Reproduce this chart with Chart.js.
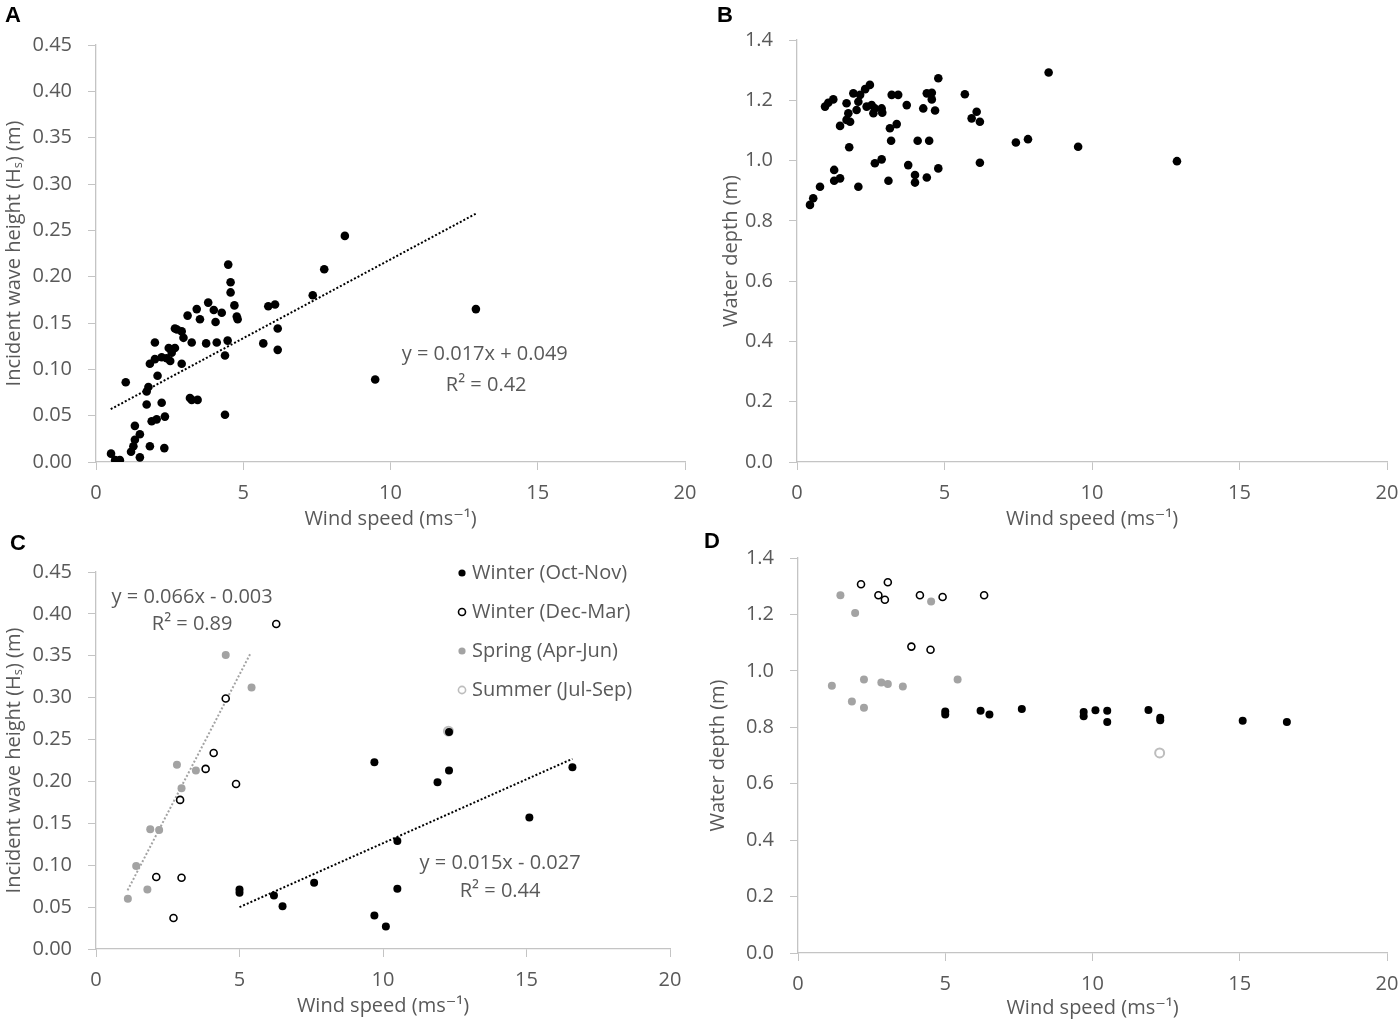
<!DOCTYPE html>
<html>
<head>
<meta charset="utf-8">
<script src="https://cdn.jsdelivr.net/npm/chart.js@4.4.1/dist/chart.umd.min.js"></script>
<style>
  body { margin: 0; background: #fff; width: 1399px; height: 1025px; position: relative; overflow: hidden; }
  .panel { position: absolute; }
  .tag { position: absolute; font: bold 22px "Liberation Sans", Arial, sans-serif; line-height: 22px; color: #000; }
</style>
</head>
<body>
<div class="panel" style="left:0;top:0"><canvas id="chartA" width="700" height="540"></canvas></div>
<div class="panel" style="left:700px;top:0"><canvas id="chartB" width="699" height="540"></canvas></div>
<div class="panel" style="left:0;top:510px"><canvas id="chartC" width="700" height="515"></canvas></div>
<div class="panel" style="left:700px;top:510px"><canvas id="chartD" width="699" height="515"></canvas></div>
<div class="tag" style="left:5px;top:4px">A</div>
<div class="tag" style="left:717px;top:4px">B</div>
<div class="tag" style="left:10px;top:532px">C</div>
<div class="tag" style="left:704px;top:530px">D</div>
<script>
// ---- panel A: wind speed vs incident wave height (all surveys)
const windA = [4.49, 4.57, 4.57, 4.70, 4.78, 4.81, 3.81, 4.00, 4.27, 3.42, 3.11, 3.53, 4.06, 2.68, 2.91, 2.97,
  3.25, 3.74, 4.10, 4.47, 4.38, 2.00, 2.68, 2.57, 2.40, 2.23, 1.83, 2.00, 2.91, 2.09, 1.78, 1.72, 1.01, 3.19,
  3.45, 3.25, 1.72, 2.23, 5.85, 6.08, 5.68, 6.17, 6.17, 4.38, 1.32, 1.89, 2.06, 2.34, 1.49, 1.32, 1.27, 1.19,
  1.83, 2.32, 1.49, 0.51, 0.65, 0.81, 7.36, 7.75, 8.45, 9.48, 12.90, 2.52, 2.47, 2.75];
const hsA = [0.213, 0.194, 0.183, 0.169, 0.157, 0.154, 0.172, 0.164, 0.161, 0.165, 0.158, 0.154, 0.151, 0.144,
  0.141, 0.134, 0.129, 0.128, 0.129, 0.131, 0.115, 0.129, 0.123, 0.118, 0.112, 0.113, 0.106, 0.111, 0.106,
  0.093, 0.081, 0.076, 0.086, 0.069, 0.067, 0.067, 0.062, 0.064, 0.168, 0.170, 0.128, 0.144, 0.121, 0.051,
  0.039, 0.044, 0.046, 0.049, 0.030, 0.024, 0.017, 0.011, 0.017, 0.015, 0.005, 0.009, 0.002, 0.002, 0.180,
  0.208, 0.244, 0.089, 0.165, 0.109, 0.123, 0.143];
const trendWindA = [0.5, 12.9];
const trendHsA = [0.057, 0.268];

// ---- panel B: wind speed vs water depth (all surveys)
const windB = [4.79, 2.47, 2.31, 1.91, 2.14, 3.21, 3.43, 4.40, 4.57, 5.69, 1.23, 1.06, 0.95, 1.68, 2.08, 2.02,
  2.36, 2.64, 2.87, 2.59, 2.89, 3.72, 4.28, 4.57, 4.68, 6.09, 5.92, 6.20, 1.74, 1.80, 1.68, 1.46, 3.15, 3.38,
  3.19, 4.09, 4.48, 1.77, 2.64, 2.87, 3.77, 4.79, 6.20, 1.26, 1.26, 1.46, 3.10, 2.08, 4.00, 4.00, 4.40, 0.78,
  0.55, 0.44, 2.53, 7.42, 7.83, 8.53, 9.53, 12.88];
const depthB = [1.273, 1.251, 1.237, 1.223, 1.218, 1.218, 1.218, 1.223, 1.225, 1.220, 1.203, 1.192, 1.179,
  1.190, 1.195, 1.168, 1.179, 1.173, 1.173, 1.157, 1.159, 1.184, 1.173, 1.203, 1.166, 1.162, 1.140, 1.129,
  1.157, 1.129, 1.135, 1.115, 1.107, 1.121, 1.066, 1.066, 1.066, 1.044, 0.991, 1.004, 0.985, 0.974, 0.993,
  0.969, 0.933, 0.941, 0.933, 0.913, 0.952, 0.927, 0.944, 0.913, 0.875, 0.853, 1.184, 1.060, 1.071, 1.292,
  1.046, 0.998];

// ---- panels C and D: by season
const windOctNov = [5.0, 5.0, 6.2, 6.5, 7.6, 9.7, 9.7, 10.1, 10.5, 10.5, 11.9, 12.3, 12.3, 15.1, 16.6];
const hsOctNov = [0.071, 0.067, 0.064, 0.051, 0.079, 0.223, 0.040, 0.027, 0.129, 0.072, 0.199, 0.259, 0.213,
  0.157, 0.217];
const depthOctNov = [0.856, 0.845, 0.859, 0.845, 0.865, 0.854, 0.839, 0.860, 0.859, 0.819, 0.861, 0.834,
  0.825, 0.823, 0.819];

const windDecMarC = [6.28, 4.52, 4.10, 3.82, 4.88, 2.93, 2.10, 2.98, 2.70];
const hsDecMar = [0.388, 0.299, 0.234, 0.215, 0.197, 0.178, 0.086, 0.085, 0.037];
const windDecMarD = [2.14, 3.05, 2.73, 2.95, 4.14, 4.91, 6.32, 3.85, 4.50];
const depthDecMar = [1.307, 1.314, 1.268, 1.252, 1.268, 1.262, 1.268, 1.086, 1.075];

const windSpringC = [4.52, 5.42, 2.82, 3.48, 2.98, 1.89, 2.20, 1.40, 1.79, 1.11];
const hsSpring = [0.351, 0.312, 0.220, 0.213, 0.192, 0.143, 0.142, 0.099, 0.071, 0.060];
const windSpringD = [1.44, 1.94, 4.52, 1.15, 2.24, 2.83, 3.05, 3.56, 5.42, 1.83, 2.24];
const depthSpring = [1.268, 1.205, 1.246, 0.947, 0.969, 0.959, 0.953, 0.945, 0.969, 0.891, 0.869];

const windSummer = [12.28];
const hsSummer = [0.260];
const depthSummer = [0.709];

const trendWindSpring = [1.1, 5.4];
const trendHsSpring = [0.070, 0.354];
const trendWindOctNov = [5.0, 16.6];
const trendHsOctNov = [0.050, 0.227];

const seasonNames = ['Winter (Oct-Nov)', 'Winter (Dec-Mar)', 'Spring (Apr-Jun)', 'Summer (Jul-Sep)'];

// ---- helpers
const FONT = '"Open Sans", "DejaVu Sans", sans-serif';
const INK = '#595959';
const AXIS = '#c4c4c4';
Chart.defaults.font.family = FONT;
Chart.defaults.font.size = 20;
Chart.defaults.color = INK;

const pts = (xs, ys) => xs.map((x, i) => ({x: x, y: ys[i]}));

function trend(xs, ys, color) {
  return {type: 'line', data: pts(xs, ys), borderColor: color, borderWidth: 2, borderDash: [2, 2],
    pointRadius: 0, fill: false, isTrend: true};
}

const styles = [
  {backgroundColor: '#000', borderColor: '#000', borderWidth: 0, pointRadius: 4},
  {backgroundColor: '#fff', borderColor: '#000', borderWidth: 1.6, pointRadius: 3.5},
  {backgroundColor: '#a3a3a3', borderColor: '#a3a3a3', borderWidth: 0, pointRadius: 4},
  {backgroundColor: 'rgba(255,255,255,0)', borderColor: '#bdbdbd', borderWidth: 2, pointRadius: 4.5}
];

const notes = {
  id: 'notes',
  afterDatasetsDraw(chart, args, opts) {
    const {ctx, chartArea} = chart;
    const xs = chart.scales.x, ys = chart.scales.y;
    ctx.save();
    ctx.font = '20px ' + FONT;
    ctx.fillStyle = INK;
    ctx.textBaseline = 'middle';
    ctx.textAlign = 'center';
    (opts.labels || []).forEach(l => {
      ctx.fillText(l.text, xs.getPixelForValue(l.x), ys.getPixelForValue(l.y));
    });
    if (opts.legend) {
      const lg = opts.legend;
      chart.data.datasets.filter(d => !d.isTrend).forEach((d, i) => {
        const cx = chartArea.left + lg.dx, cy = chartArea.top + lg.dy + i * lg.gap;
        ctx.beginPath();
        ctx.arc(cx, cy, Math.min(d.pointRadius, 3.6), 0, Math.PI * 2);
        ctx.fillStyle = d.backgroundColor;
        ctx.fill();
        if (d.borderWidth) {
          ctx.lineWidth = Math.min(d.borderWidth, 1.6);
          ctx.strokeStyle = d.borderColor;
          ctx.stroke();
        }
        ctx.fillStyle = INK;
        ctx.textAlign = 'left';
        ctx.fillText(d.label, cx + 10, cy);
      });
    }
    ctx.restore();
  }
};

function makeChart(id, datasets, cfg) {
  return new Chart(document.getElementById(id), {
    type: 'scatter',
    data: {datasets: datasets},
    options: {
      responsive: false,
      animation: false,
      layout: {autoPadding: false, padding: {left: 0, top: cfg.top, right: cfg.right, bottom: cfg.bottom}},
      plugins: {legend: {display: false}, tooltip: {enabled: false}, notes: cfg.notes || {}},
      scales: {
        x: {
          type: 'linear', min: 0, max: 20,
          ticks: {stepSize: 5, padding: 11, color: INK},
          grid: {drawOnChartArea: false, tickLength: 8, color: AXIS},
          border: {color: AXIS, width: 1.3},
          title: {display: true, text: 'Wind speed (ms\u207B\u00B9)', color: INK, padding: {top: 0, bottom: 0}},
          // fixed box so the plot area lands where the reference has it
          afterFit: s => { s.height = cfg.xH; s.paddingLeft = 0; s.paddingRight = 0; }
        },
        y: {
          type: 'linear', min: 0, max: cfg.yMax,
          ticks: {stepSize: cfg.yStep, padding: 16, color: INK, callback: v => Number(v).toFixed(cfg.digits)},
          grid: {drawOnChartArea: false, tickLength: 8, color: AXIS},
          border: {color: AXIS, width: 1.3},
          title: {display: true, text: cfg.yTitle, color: INK, padding: {top: cfg.yTitlePad, bottom: 0}},
          afterFit: s => { s.width = cfg.yW; s.paddingTop = 0; s.paddingBottom = 0; }
        }
      }
    },
    plugins: [notes]
  });
}

const HS_TITLE = 'Incident wave height (H\u209B) (m)';
const DEPTH_TITLE = 'Water depth (m)';

// A
makeChart('chartA', [
  Object.assign({label: 'All', data: pts(windA, hsA)}, styles[0], {pointRadius: 4.3}),
  trend(trendWindA, trendHsA, '#000')
], {top: 45, right: 15, bottom: 9, xH: 69, yW: 96, yMax: 0.45, yStep: 0.05, digits: 2,
  yTitle: HS_TITLE, yTitlePad: 2,
  notes: {labels: [{text: 'y = 0.017x + 0.049', x: 13.2, y: 0.116}, {text: 'R\u00B2 = 0.42', x: 13.25, y: 0.083}]}});

// B
makeChart('chartB', [
  Object.assign({label: 'All', data: pts(windB, depthB)}, styles[0], {pointRadius: 4.3})
], {top: 40, right: 12, bottom: 9, xH: 69, yW: 97, yMax: 1.4, yStep: 0.2, digits: 1,
  yTitle: DEPTH_TITLE, yTitlePad: 19});

// C
makeChart('chartC', [
  Object.assign({label: seasonNames[0], data: pts(windOctNov, hsOctNov)}, styles[0]),
  Object.assign({label: seasonNames[1], data: pts(windDecMarC, hsDecMar)}, styles[1]),
  Object.assign({label: seasonNames[2], data: pts(windSpringC, hsSpring)}, styles[2]),
  Object.assign({label: seasonNames[3], data: pts(windSummer, hsSummer)}, styles[3]),
  trend(trendWindSpring, trendHsSpring, '#a3a3a3'),
  trend(trendWindOctNov, trendHsOctNov, '#000')
], {top: 62, right: 30, bottom: 7, xH: 69, yW: 96, yMax: 0.45, yStep: 0.05, digits: 2,
  yTitle: HS_TITLE, yTitlePad: 2,
  notes: {
    labels: [{text: 'y = 0.066x - 0.003', x: 3.35, y: 0.42}, {text: 'R\u00B2 = 0.89', x: 3.35, y: 0.387},
      {text: 'y = 0.015x - 0.027', x: 14.08, y: 0.102}, {text: 'R\u00B2 = 0.44', x: 14.08, y: 0.0686}],
    legend: {dx: 366, dy: 1, gap: 39}
  }});

// D
makeChart('chartD', [
  Object.assign({label: seasonNames[0], data: pts(windOctNov, depthOctNov)}, styles[0]),
  Object.assign({label: seasonNames[1], data: pts(windDecMarD, depthDecMar)}, styles[1]),
  Object.assign({label: seasonNames[2], data: pts(windSpringD, depthSpring)}, styles[2]),
  Object.assign({label: seasonNames[3], data: pts(windSummer, depthSummer)}, styles[3])
], {top: 48, right: 12, bottom: 5, xH: 67, yW: 98, yMax: 1.4, yStep: 0.2, digits: 1,
  yTitle: DEPTH_TITLE, yTitlePad: 6});
</script>
</body>
</html>
